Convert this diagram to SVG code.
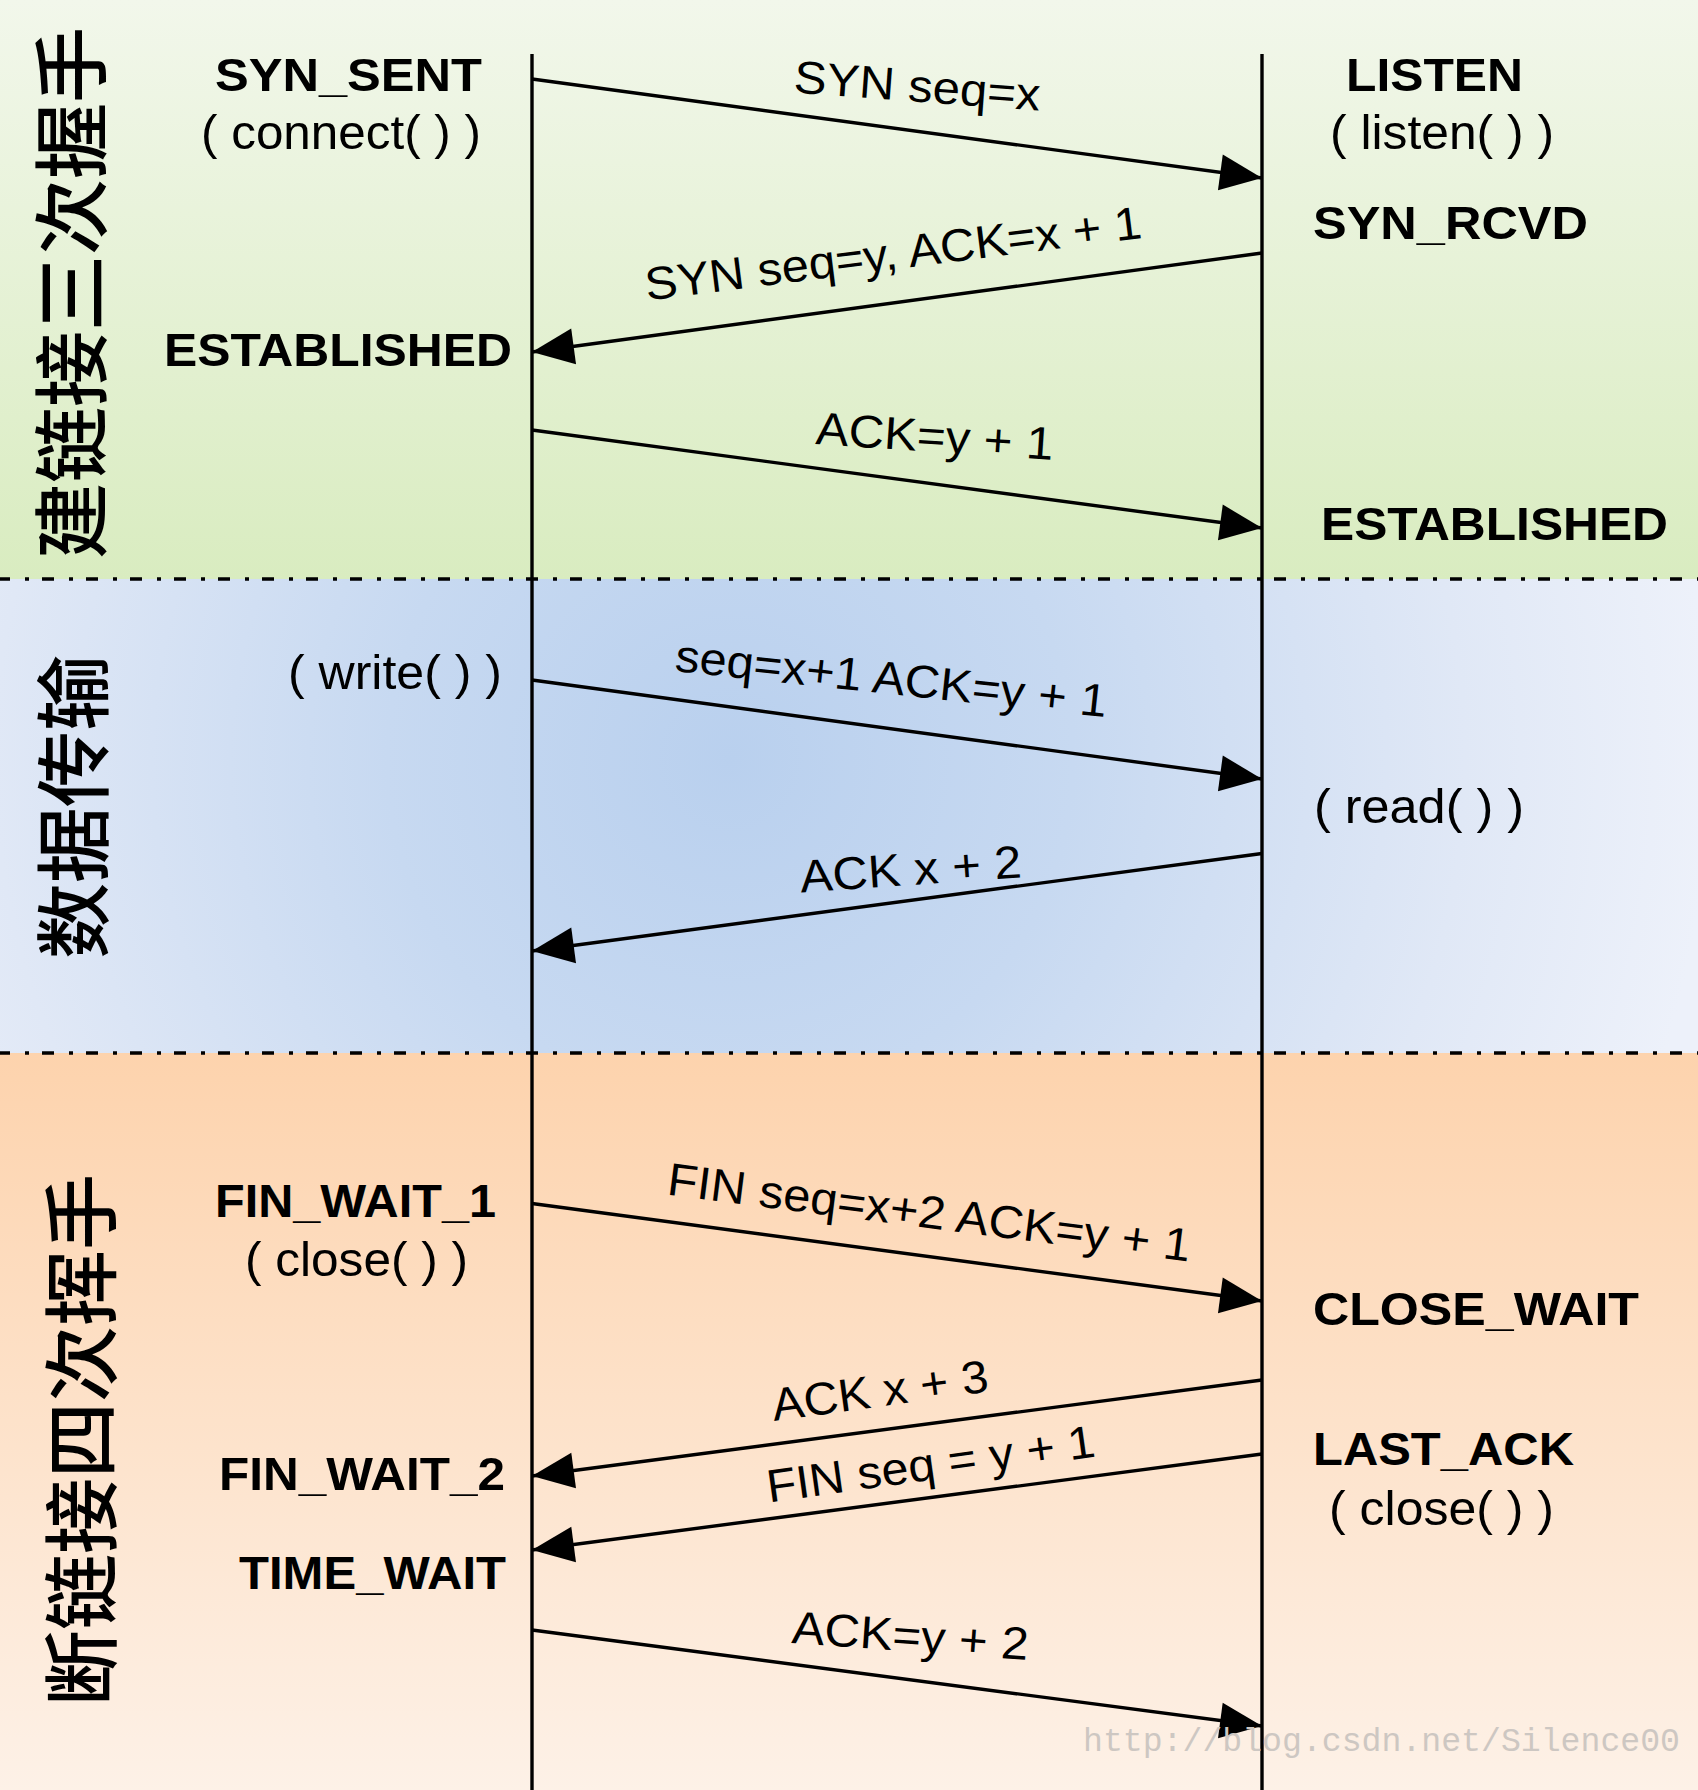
<svg xmlns="http://www.w3.org/2000/svg" width="1698" height="1790" viewBox="0 0 1698 1790">
<style>
.life{stroke:#000;stroke-width:3.4;fill:none}
.div{stroke:#000;stroke-width:3.5;stroke-dasharray:12 15 4 13;stroke-dashoffset:2;fill:none}
.msg{stroke:#000;stroke-width:3.4;fill:none;marker-end:url(#ah)}
.st{font-family:"Liberation Sans",Arial,sans-serif;font-weight:bold;font-size:47px;fill:#000}
.call{font-family:"Liberation Sans",Arial,sans-serif;font-size:49px;fill:#000}
.lbl{font-family:"Liberation Sans",Arial,sans-serif;font-size:46px;fill:#000}
.cn{font-family:"Noto Sans CJK SC",sans-serif;font-weight:500;font-size:76px;fill:#000;text-anchor:middle;dominant-baseline:central}
.wm{font-family:"Liberation Mono","Courier New",monospace;font-size:33px;fill:#cdc7c2}
</style>
<defs>
<linearGradient id="gGreen" x1="0" y1="0" x2="0" y2="1">
<stop offset="0" stop-color="#f2f7eb"/>
<stop offset="1" stop-color="#d9ecc0"/>
</linearGradient>
<radialGradient id="gBlue" gradientUnits="userSpaceOnUse" cx="730" cy="760" r="980">
<stop offset="0" stop-color="#b9d0ee"/>
<stop offset="0.35" stop-color="#c7d9f1"/>
<stop offset="0.75" stop-color="#e0e8f6"/>
<stop offset="1" stop-color="#edf1fa"/>
</radialGradient>
<linearGradient id="gOrange" x1="0" y1="0" x2="0" y2="1">
<stop offset="0" stop-color="#fdd3ad"/>
<stop offset="0.5" stop-color="#fde2ca"/>
<stop offset="1" stop-color="#fdf1e7"/>
</linearGradient>
<marker id="ah" markerUnits="userSpaceOnUse" markerWidth="44" markerHeight="38" refX="42" refY="18" orient="auto" overflow="visible">
<path d="M0,0 L42,18 L0,36 z" fill="#000"/>
</marker>
</defs>

<g id="backgrounds">
<rect x="0" y="0" width="1698" height="579" fill="url(#gGreen)"/>
<rect x="0" y="579" width="1698" height="474" fill="url(#gBlue)"/>
<rect x="0" y="1053" width="1698" height="737" fill="url(#gOrange)"/>
<line class="div" x1="0" y1="579" x2="1698" y2="579"/>
<line class="div" x1="0" y1="1053" x2="1698" y2="1053"/>
</g>

<g id="phase-labels">
<text class="cn" transform="translate(67 293) rotate(-90)">建链接三次握手</text>
<text class="cn" transform="translate(69 807) rotate(-90)">数据传输</text>
<text class="cn" transform="translate(77 1440) rotate(-90)">断链接四次挥手</text>
</g>

<g id="lifelines">
<line id="client-line" class="life" x1="532" y1="54" x2="532" y2="1790"/>
<line id="server-line" class="life" x1="1262" y1="54" x2="1262" y2="1790"/>
</g>

<g id="client-states">
<g id="c-syn-sent"><text class="st" x="215" y="90.5" textLength="267" lengthAdjust="spacingAndGlyphs">SYN_SENT</text>
<text class="call" x="201" y="149" textLength="280" lengthAdjust="spacingAndGlyphs">( connect( ) )</text></g>
<g id="c-established"><text class="st" x="164" y="365.5" textLength="348" lengthAdjust="spacingAndGlyphs">ESTABLISHED</text></g>
<g id="c-write"><text class="call" x="288" y="689" textLength="214" lengthAdjust="spacingAndGlyphs">( write( ) )</text></g>
<g id="c-fin-wait-1"><text class="st" x="215" y="1217" textLength="281" lengthAdjust="spacingAndGlyphs">FIN_WAIT_1</text>
<text class="call" x="245" y="1276" textLength="223" lengthAdjust="spacingAndGlyphs">( close( ) )</text></g>
<g id="c-fin-wait-2"><text class="st" x="219" y="1489.5" textLength="286" lengthAdjust="spacingAndGlyphs">FIN_WAIT_2</text></g>
<g id="c-time-wait"><text class="st" x="239" y="1589" textLength="267" lengthAdjust="spacingAndGlyphs">TIME_WAIT</text></g>
</g>

<g id="server-states">
<g id="s-listen"><text class="st" x="1346" y="91" textLength="177" lengthAdjust="spacingAndGlyphs">LISTEN</text>
<text class="call" x="1330" y="149" textLength="224" lengthAdjust="spacingAndGlyphs">( listen( ) )</text></g>
<g id="s-syn-rcvd"><text class="st" x="1313" y="239" textLength="275" lengthAdjust="spacingAndGlyphs">SYN_RCVD</text></g>
<g id="s-established"><text class="st" x="1321" y="540" textLength="347" lengthAdjust="spacingAndGlyphs">ESTABLISHED</text></g>
<g id="s-read"><text class="call" x="1314" y="823" textLength="210" lengthAdjust="spacingAndGlyphs">( read( ) )</text></g>
<g id="s-close-wait"><text class="st" x="1313" y="1324.5" textLength="326" lengthAdjust="spacingAndGlyphs">CLOSE_WAIT</text></g>
<g id="s-last-ack"><text class="st" x="1313" y="1465" textLength="261" lengthAdjust="spacingAndGlyphs">LAST_ACK</text>
<text class="call" x="1329" y="1525" textLength="225" lengthAdjust="spacingAndGlyphs">( close( ) )</text></g>
</g>

<g id="connectors">
<line class="msg" x1="532" y1="79" x2="1262" y2="178"/>
<line class="msg" x1="1262" y1="253" x2="532" y2="352"/>
<line class="msg" x1="532" y1="430" x2="1262" y2="528"/>
<line class="msg" x1="532" y1="680" x2="1262" y2="779"/>
<line class="msg" x1="1262" y1="853.5" x2="532" y2="951"/>
<line class="msg" x1="532" y1="1203.5" x2="1262" y2="1301"/>
<line class="msg" x1="1262" y1="1380" x2="532" y2="1476"/>
<line class="msg" x1="1262" y1="1454" x2="532" y2="1550"/>
<line class="msg" x1="532" y1="1630" x2="1262" y2="1726"/>
</g>

<g id="connector-labels">
<text class="lbl" x="793" y="92.5" transform="rotate(4.2 793 92.5)" textLength="247" lengthAdjust="spacingAndGlyphs">SYN seq=x</text>
<text class="lbl" x="647" y="300.5" transform="rotate(-7.2 647 300.5)" textLength="500" lengthAdjust="spacingAndGlyphs">SYN seq=y, ACK=x + 1</text>
<text class="lbl" x="815" y="444" transform="rotate(3.8 815 444)" textLength="238" lengthAdjust="spacingAndGlyphs">ACK=y + 1</text>
<text class="lbl" x="674" y="671" transform="rotate(6.1 674 671)" textLength="434" lengthAdjust="spacingAndGlyphs">seq=x+1 ACK=y + 1</text>
<text class="lbl" x="801" y="892.5" transform="rotate(-3.9 801 892.5)" textLength="222" lengthAdjust="spacingAndGlyphs">ACK x + 2</text>
<text class="lbl" x="666" y="1194.5" transform="rotate(7.3 666 1194.5)" textLength="527" lengthAdjust="spacingAndGlyphs">FIN seq=x+2 ACK=y + 1</text>
<text class="lbl" x="774" y="1421" transform="rotate(-7.8 774 1421)" textLength="218" lengthAdjust="spacingAndGlyphs">ACK x + 3</text>
<text class="lbl" x="769" y="1502.5" transform="rotate(-8 769 1502.5)" textLength="331" lengthAdjust="spacingAndGlyphs">FIN seq = y + 1</text>
<text class="lbl" x="791" y="1643" transform="rotate(4.1 791 1643)" textLength="237" lengthAdjust="spacingAndGlyphs">ACK=y + 2</text>
</g>

<text class="wm" x="1083" y="1751" textLength="597" lengthAdjust="spacingAndGlyphs">http://blog.csdn.net/Silence00</text>
</svg>
